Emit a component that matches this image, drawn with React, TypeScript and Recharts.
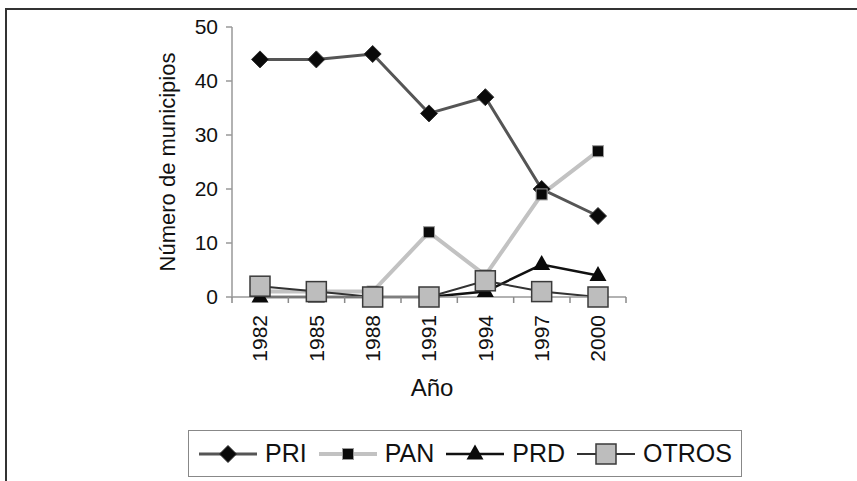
import React from 'react';
import { LineChart, Line, XAxis, YAxis } from 'recharts';

// Municipios ganados por partido
const years = ['1982', '1985', '1988', '1991', '1994', '1997', '2000'];
const pri = [44, 44, 45, 34, 37, 20, 15];
const pan = [1, 1, 1, 12, 4, 19, 27];
const prd = [0, 0, 0, 0, 1, 6, 4];
const otros = [2, 1, 0, 0, 3, 1, 0];
const yTicks = [0, 10, 20, 30, 40, 50];

const data = years.map((year, i) => ({
  year,
  PRI: pri[i],
  PAN: pan[i],
  PRD: prd[i],
  OTROS: otros[i],
}));

const FONT = '"Liberation Sans", Arial, sans-serif';
const HALF_BAND = 28;

const Diamond = ({ cx, cy, r = 8.5 }: any) => (
  <polygon points={`${cx},${cy - r} ${cx + r},${cy} ${cx},${cy + r} ${cx - r},${cy}`} fill="#0a0a0a" stroke="#333" strokeWidth={1} />
);

const SmallSquare = ({ cx, cy, s = 11 }: any) => (
  <rect x={cx - s / 2} y={cy - s / 2} width={s} height={s} fill="#0a0a0a" stroke="#9a9a9a" strokeWidth={1} />
);

const Triangle = ({ cx, cy, w = 17, h = 15 }: any) => (
  <polygon points={`${cx},${cy - h / 2 - 2} ${cx + w / 2},${cy + h / 2 - 2} ${cx - w / 2},${cy + h / 2 - 2}`} fill="#0a0a0a" />
);

const BigSquare = ({ cx, cy, s = 20 }: any) => (
  <rect x={cx - s / 2} y={cy - s / 2} width={s} height={s} fill="#bdbdbd" stroke="#3a3a3a" strokeWidth={1.5} />
);

const series = [
  { key: 'PRI', color: '#555', width: 3, Dot: Diamond },
  { key: 'PAN', color: '#c2c2c2', width: 4, Dot: SmallSquare },
  { key: 'PRD', color: '#111', width: 2.5, Dot: Triangle },
  { key: 'OTROS', color: '#333', width: 2, Dot: BigSquare },
];

// Excel-style: tick marks sit between categories
const YearTick = ({ x, y, payload, index }: any) => (
  <g>
    <line x1={x - HALF_BAND} y1={y - 8} x2={x - HALF_BAND} y2={y - 2} stroke="#8a8a8a" strokeWidth={1.5} />
    {index === years.length - 1 && (
      <line x1={x + HALF_BAND} y1={y - 8} x2={x + HALF_BAND} y2={y - 2} stroke="#8a8a8a" strokeWidth={1.5} />
    )}
    <g transform={`translate(${x},${y}) rotate(-90)`}>
      <text x={-10} y={0} dy="0.35em" textAnchor="end" fontSize={21} fontFamily={FONT} fill="#111">
        {payload.value}
      </text>
    </g>
  </g>
);

const YLabel = ({ viewBox }: any) => {
  const cx = viewBox.x - 5;
  const cy = viewBox.y + viewBox.height / 2;
  return (
    <text x={cx} y={cy} transform={`rotate(-90, ${cx}, ${cy})`} textAnchor="middle" dominantBaseline="central" fontSize={22} fontFamily={FONT} fill="#111">
      Número de municipios
    </text>
  );
};

const XLabel = ({ viewBox }: any) => (
  <text x={viewBox.x + viewBox.width / 2 + 3} y={viewBox.y + 99} textAnchor="middle" fontSize={24} fontFamily={FONT} fill="#111">
    Año
  </text>
);

const LegendBox = () => (
  <div
    style={{
      position: 'absolute',
      left: 188,
      top: 430,
      width: 554,
      height: 47,
      border: '1px solid #888',
      display: 'flex',
      alignItems: 'center',
      paddingLeft: 10,
      boxSizing: 'border-box',
      fontFamily: FONT,
      fontSize: 25,
      color: '#111',
    }}
  >
    {series.map((s) => (
      <div key={s.key} style={{ display: 'flex', alignItems: 'center', marginRight: 12 }}>
        <svg width={58} height={24}>
          <line x1={0} y1={12} x2={58} y2={12} stroke={s.color} strokeWidth={s.width} />
          <s.Dot cx={29} cy={12} />
        </svg>
        <span style={{ marginLeft: 8 }}>{s.key}</span>
      </div>
    ))}
  </div>
);

export default function App() {
  return (
    <div style={{ position: 'fixed', left: 0, top: 0, width: 857, height: 481, background: '#fff', overflow: 'hidden' }}>
      <div
        style={{
          position: 'absolute',
          left: 5,
          top: 8,
          width: 900,
          height: 600,
          borderLeft: '2px solid #333',
          borderTop: '2px solid #333',
        }}
      />
      <div style={{ position: 'absolute', left: 0, top: 0 }}>
        <LineChart width={857} height={481} data={data} margin={{ top: 27, right: 231, left: 172, bottom: 74 }}>
          <XAxis
            dataKey="year"
            padding={{ left: HALF_BAND, right: HALF_BAND }}
            height={110}
            tick={<YearTick />}
            tickLine={false}
            stroke="#999"
            strokeWidth={1.5}
            interval={0}
            label={<XLabel />}
          />
          <YAxis
            domain={[0, 50]}
            ticks={yTicks}
            width={60}
            tickSize={6}
            tickMargin={8}
            stroke="#999"
            strokeWidth={1.5}
            tick={{ fontSize: 21, fontFamily: FONT, fill: '#111' }}
            label={<YLabel />}
          />
          {series.map((s) => (
            <Line
              key={s.key}
              dataKey={s.key}
              type="linear"
              stroke={s.color}
              strokeWidth={s.width}
              dot={(p: any) => <s.Dot key={`${s.key}-${p.index}`} cx={p.cx} cy={p.cy} />}
              activeDot={false}
              isAnimationActive={false}
            />
          ))}
        </LineChart>
      </div>
      <LegendBox />
    </div>
  );
}
